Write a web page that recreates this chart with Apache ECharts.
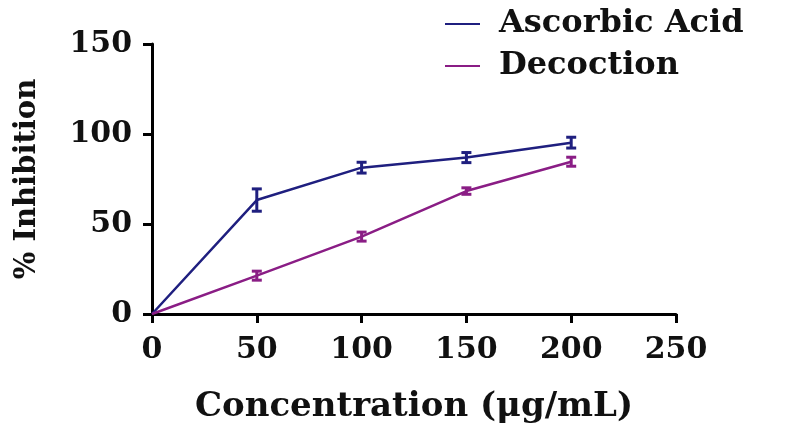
<!DOCTYPE html>
<html><head><meta charset="utf-8">
<script src="https://cdn.jsdelivr.net/npm/echarts@6/dist/echarts.min.js"></script>
<style>html,body{margin:0;padding:0;background:#fff}#c{width:786px;height:429px}</style>
</head><body><div id="c"></div>
<script>
const concentrations = [0, 50, 100, 150, 200];
const ascorbicMean = [0, 63.3, 81.3, 86.9, 95.2];
const ascorbicErr = [0, 6.2, 3.0, 2.8, 3.0];
const decoctionMean = [0, 21.3, 43.0, 68.3, 84.6];
const decoctionErr = [0, 2.5, 2.5, 1.8, 2.5];
const seriesNames = ['Ascorbic Acid', 'Decoction'];
const colors = ['#1f1f7f', '#8a1d85'];

const font = 'DejaVu Serif';
function pts(m){ return concentrations.map((x,i)=>[x,m[i]]); }
function errData(m,e){ return concentrations.map((x,i)=>[x,m[i]-e[i],m[i]+e[i]]).filter((d,i)=>e[i]>0); }
function errSeries(name,m,e,color){
  return {
    type:'custom', name:name, data:errData(m,e), z:5,
    renderItem:function(params,api){
      const x=api.value(0), lo=api.value(1), hi=api.value(2);
      const p1=api.coord([x,lo]), p2=api.coord([x,hi]);
      const w=5;
      return {type:'group',children:[
        {type:'line',shape:{x1:p1[0],y1:p1[1],x2:p2[0],y2:p2[1]},style:{stroke:color,lineWidth:3}},
        {type:'line',shape:{x1:p1[0]-w,y1:p1[1],x2:p1[0]+w,y2:p1[1]},style:{stroke:color,lineWidth:3}},
        {type:'line',shape:{x1:p2[0]-w,y1:p2[1],x2:p2[0]+w,y2:p2[1]},style:{stroke:color,lineWidth:3}}
      ]};
    }
  };
}
const chart = echarts.init(document.getElementById('c'));
chart.setOption({
  animation:false,
  grid:{left:152,right:110,top:44,bottom:115,containLabel:false},
  legend:{
    data:seriesNames, orient:'vertical', left:440, top:3, itemGap:10,
    icon:'rect', itemWidth:35, itemHeight:2,
    textStyle:{fontFamily:font,fontWeight:'bold',fontSize:32,color:'#111',padding:[0,0,0,14]}
  },
  xAxis:{
    type:'value', min:0, max:250, interval:50,
    name:'Concentration (μg/mL)', nameLocation:'middle', nameGap:76,
    nameTextStyle:{fontFamily:font,fontWeight:'bold',fontSize:34,color:'#111'},
    axisLine:{lineStyle:{color:'#000',width:3}},
    axisTick:{length:9,lineStyle:{color:'#000',width:3}},
    axisLabel:{margin:21,fontFamily:font,fontWeight:'bold',fontSize:30,color:'#111'},
    splitLine:{show:false}
  },
  yAxis:{
    type:'value', min:0, max:150, interval:50,
    name:'% Inhibition', nameLocation:'middle', nameGap:110,
    nameTextStyle:{fontFamily:font,fontWeight:'bold',fontSize:29,color:'#111'},
    axisLine:{show:true,lineStyle:{color:'#000',width:3}},
    axisTick:{show:true,length:9,lineStyle:{color:'#000',width:3}},
    axisLabel:{margin:20,fontFamily:font,fontWeight:'bold',fontSize:30,color:'#111'},
    splitLine:{show:false}
  },
  series:[
    {name:seriesNames[0],type:'line',data:pts(ascorbicMean),symbol:'none',lineStyle:{color:colors[0],width:2.5},itemStyle:{color:colors[0]},z:4},
    {name:seriesNames[1],type:'line',data:pts(decoctionMean),symbol:'none',lineStyle:{color:colors[1],width:2.5},itemStyle:{color:colors[1]},z:4},
    errSeries(seriesNames[0],ascorbicMean,ascorbicErr,colors[0]),
    errSeries(seriesNames[1],decoctionMean,decoctionErr,colors[1])
  ]
});
</script></body></html>
